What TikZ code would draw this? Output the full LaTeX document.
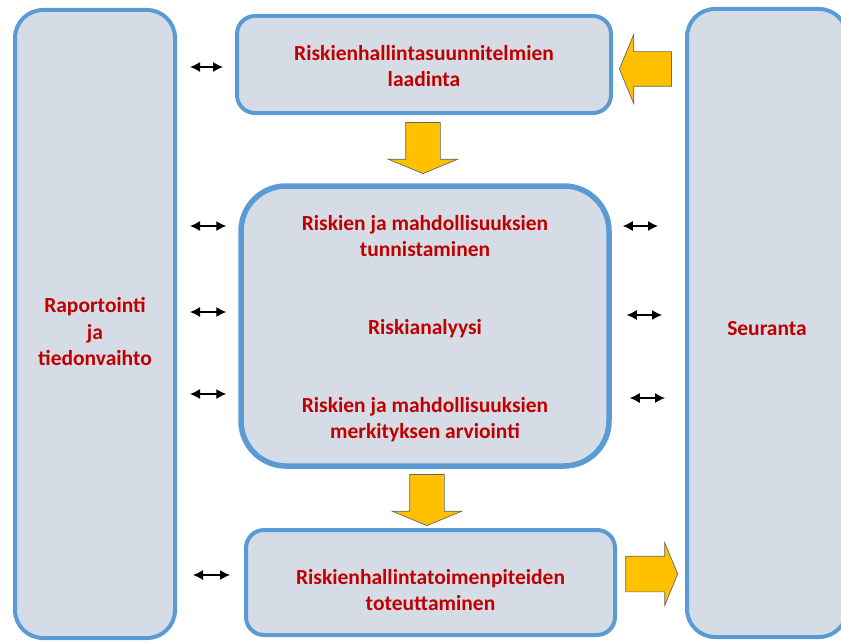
\documentclass[tikz,border=0pt]{standalone}
\usepackage{fontspec}
\setmainfont{Carlito}
\usetikzlibrary{shapes.arrows,arrows.meta,positioning}
\definecolor{boxfill}{HTML}{D6DCE5}
\definecolor{boxline}{HTML}{5B9BD5}
\definecolor{textred}{HTML}{C00000}
\definecolor{flowyellow}{HTML}{FFC000}

\begin{document}
\begin{tikzpicture}[
    x=1pt, y=-1pt,
    every node/.style={font=\fontsize{21.5}{26.5}\selectfont\bfseries, text=textred, align=center},
    box/.style={draw=boxline, fill=boxfill, line width=4pt, rounded corners=18pt, inner sep=0pt},
    bigbox/.style={box, line width=5.5pt, rounded corners=45pt},
    sidebox/.style={box, rounded corners=28pt, minimum width=160pt, minimum height=628pt},
    flow/.style={single arrow, draw=black!60, fill=flowyellow, line width=0.7pt, inner sep=17pt,
        single arrow head extend=17.5pt, single arrow tip angle=135, minimum height=51pt},
    link/.style={{Latex[length=10pt,width=10pt]}-{Latex[length=10pt,width=10pt]}, line width=1.3pt, black}
]
\useasboundingbox (0,0) rectangle (841,642);
\clip (0,0) rectangle (841,642);

% side columns
\node[sidebox] (rap) at (95,324) {};
\node (raptxt) at (95,332) {Raportointi\\ja\\tiedonvaihto};
\node[sidebox] (seur) at (767,323) {};
\node (seurtxt) at (767,328.5) {Seuranta};

% process boxes
\node[box, minimum width=374pt, minimum height=97pt] (plan) at (424,64.5) {};
\node (plantxt) at (424,66) {Riskienhallintasuunnitelmien\\laadinta};
\node[bigbox, minimum width=368pt, minimum height=280pt] (mid) at (425,326) {};
\node (tunn) at (425,236) {Riskien ja mahdollisuuksien\\tunnistaminen};
\node (anal) at (425,329) {Riskianalyysi};
\node (arvi) at (425,419.5) {Riskien ja mahdollisuuksien\\merkityksen arviointi};
\node[box, minimum width=369pt, minimum height=105pt] (toteu) at (430.5,582.5) {};
\node (toteutxt) at (430.5,590) {Riskienhallintatoimenpiteiden\\toteuttaminen};

% block arrows
\node[flow, shape border rotate=180, minimum height=52pt] (back) at (649,69) {};
\node[flow, shape border rotate=270] (down1) at (423,144.5) {};
\node[flow, shape border rotate=270] (down2) at (427,496.5) {};
\node[flow, inner sep=17.5pt, single arrow head extend=13.5pt, minimum height=52pt] (out) at (648,574) {};

% exchange arrows
\draw[link] ([xshift=13pt]rap.east |- 0,67) -- ([xshift=-12pt]plan.west |- 0,67);
\draw[link] ([xshift=13pt]rap.east |- 0,226) -- ([xshift=-12pt]mid.west |- 0,226);
\draw[link] ([xshift=13pt]rap.east |- 0,312) -- ([xshift=-12pt]mid.west |- 0,312);
\draw[link] ([xshift=13pt]rap.east |- 0,394) -- ([xshift=-12pt]mid.west |- 0,394);
\draw[link] ([xshift=16pt]rap.east |- 0,575) -- ([xshift=-14pt]toteu.west |- 0,575);
\draw[link] ([xshift=11pt]mid.east |- 0,226) -- ([xshift=-27pt]seur.west |- 0,226);
\draw[link] ([xshift=15pt]mid.east |- 0,315) -- ([xshift=-23pt]seur.west |- 0,315);
\draw[link] ([xshift=18pt]mid.east |- 0,398) -- ([xshift=-20pt]seur.west |- 0,398);
\end{tikzpicture}
\end{document}
